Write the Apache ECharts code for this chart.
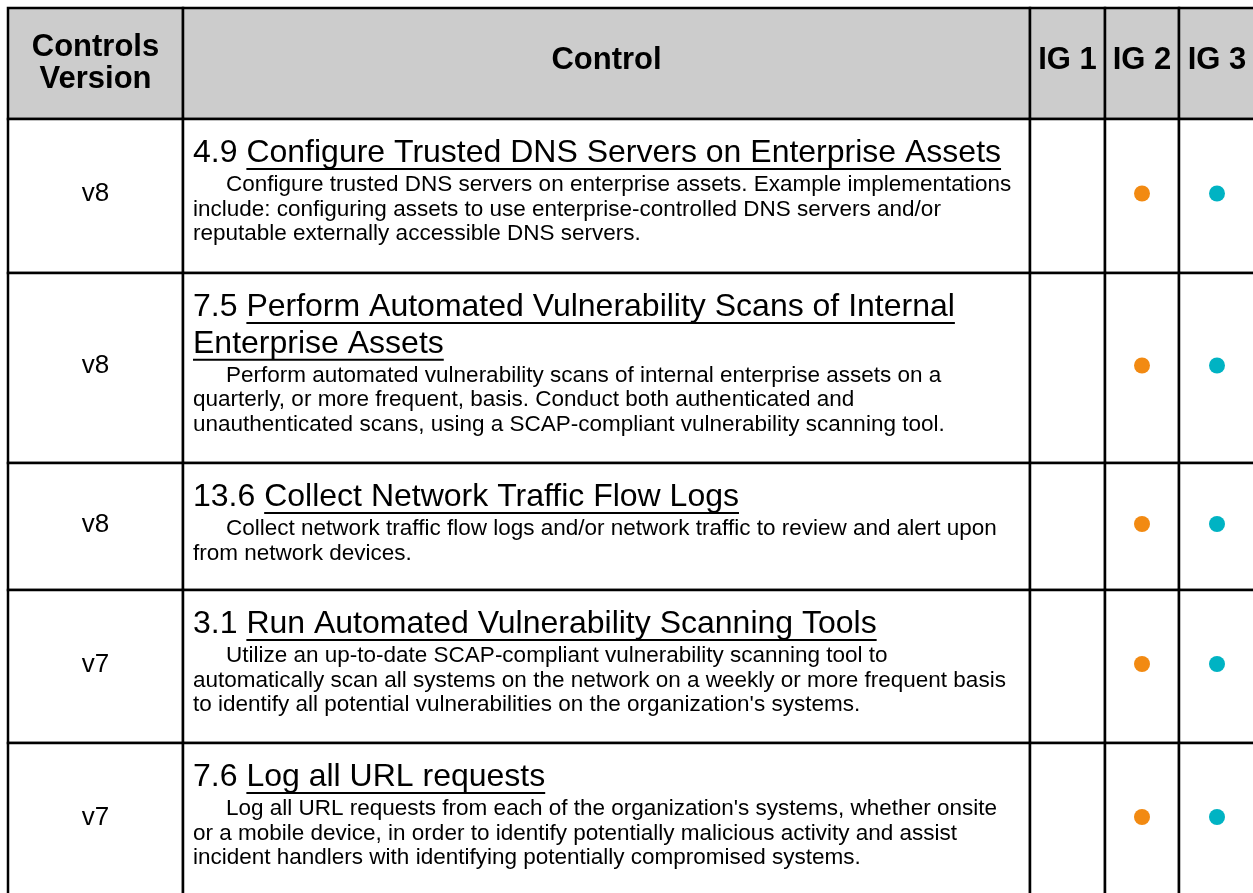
<!DOCTYPE html>
<html>
<head>
<meta charset="utf-8">
<script src="https://cdn.jsdelivr.net/npm/echarts@6/dist/echarts.min.js"></script>
<style>
html,body{margin:0;padding:0;background:#fff;}
#chart{width:1253px;height:893px;}
</style>
</head>
<body>
<div id="chart"></div>
<script>
// ---------- data ----------
const headers = ['Controls\nVersion', 'Control', 'IG 1', 'IG 2', 'IG 3'];
const versions = ['v8', 'v8', 'v8', 'v7', 'v7'];
const controlIds = ['4.9', '7.5', '13.6', '3.1', '7.6'];
const titles = [
  ['Configure Trusted DNS Servers on Enterprise Assets'],
  ['Perform Automated Vulnerability Scans of Internal', 'Enterprise Assets'],
  ['Collect Network Traffic Flow Logs'],
  ['Run Automated Vulnerability Scanning Tools'],
  ['Log all URL requests']
];
const descriptions = [
  ['Configure trusted DNS servers on enterprise assets. Example implementations',
   'include: configuring assets to use enterprise-controlled DNS servers and/or',
   'reputable externally accessible DNS servers.'],
  ['Perform automated vulnerability scans of internal enterprise assets on a',
   'quarterly, or more frequent, basis. Conduct both authenticated and',
   'unauthenticated scans, using a SCAP-compliant vulnerability scanning tool.'],
  ['Collect network traffic flow logs and/or network traffic to review and alert upon',
   'from network devices.'],
  ['Utilize an up-to-date SCAP-compliant vulnerability scanning tool to',
   'automatically scan all systems on the network on a weekly or more frequent basis',
   "to identify all potential vulnerabilities on the organization's systems."],
  ["Log all URL requests from each of the organization's systems, whether onsite",
   'or a mobile device, in order to identify potentially malicious activity and assist',
   'incident handlers with identifying potentially compromised systems.']
];
const ig1 = [0, 0, 0, 0, 0];
const ig2 = [1, 1, 1, 1, 1];
const ig3 = [1, 1, 1, 1, 1];

// ---------- layout ----------
const W = 1253, H = 893;
const colEdges = [8, 183, 1030, 1105, 1179, 1255];
const rowEdges = [8, 119, 273, 463, 590, 743, 896];
const FAMILY = 'Liberation Sans';
const HEADER_BG = '#cccccc';
const ORANGE = '#f28a12';
const TEAL = '#00b3c3';
const TITLE_SIZE = 32, DESC_SIZE = 22.5;
const TITLE_STEP = 36.7, DESC_STEP = 24.5;

const measureCtx = document.createElement('canvas').getContext('2d');
function textWidth(s, size) { measureCtx.font = size + 'px "' + FAMILY + '"'; return measureCtx.measureText(s).width; }

const cells = [];
for (let r = 0; r <= versions.length; r++) for (let c = 0; c < headers.length; c++) cells.push([c, r]);

function txt(x, y, text, size, weight, align) {
  return { type: 'text', x, y, style: {
    text, fontFamily: FAMILY, fontSize: size, fontWeight: weight || 'normal',
    fill: '#000', align: align || 'left', verticalAlign: 'middle' } };
}

function renderCell(params, api) {
  const c = api.value(0), r = api.value(1);
  const p0 = api.coord([colEdges[c], rowEdges[r]]);
  const p1 = api.coord([colEdges[c + 1], rowEdges[r + 1]]);
  const x0 = p0[0], y0 = p0[1], w = p1[0] - p0[0], h = p1[1] - p0[1];
  const children = [{
    type: 'rect', shape: { x: x0, y: y0, width: w, height: h },
    style: { fill: r === 0 ? HEADER_BG : '#ffffff', stroke: '#000', lineWidth: 2.5 }
  }];
  const cx = x0 + w / 2, cy = y0 + h / 2;
  if (r === 0) {
    const multi = headers[c].indexOf('\n') >= 0;
    const t = txt(cx, cy - (multi ? 0.5 : 3), headers[c], 31, 'bold', 'center');
    t.style.lineHeight = 32;
    children.push(t);
  } else {
    const i = r - 1;
    if (c === 0) {
      children.push(txt(cx, cy - 2, versions[i], 26, 'normal', 'center'));
    } else if (c === 1) {
      const tx = x0 + 10;
      let base = y0 + 45;
      const tl = titles[i];
      for (let k = 0; k < tl.length; k++) {
        const prefix = k === 0 ? controlIds[i] + ' ' : '';
        const pw = textWidth(prefix, TITLE_SIZE);
        const lw = textWidth(tl[k], TITLE_SIZE);
        children.push(txt(tx, base - 11, prefix + tl[k], TITLE_SIZE));
        children.push({ type: 'line', shape: { x1: tx + pw, y1: base + 5, x2: tx + pw + lw, y2: base + 5 },
          style: { stroke: '#000', lineWidth: 2 } });
        if (k < tl.length - 1) base += TITLE_STEP;
      }
      base += 28.5;
      const dl = descriptions[i];
      for (let k = 0; k < dl.length; k++) {
        children.push(txt(tx + (k === 0 ? 33 : 0), base - 7.7, dl[k], DESC_SIZE));
        base += DESC_STEP;
      }
    }
  }
  return { type: 'group', children };
}

function dotData(flags, col) {
  const out = [];
  flags.forEach((f, i) => {
    if (f) out.push([(colEdges[col] + colEdges[col + 1]) / 2, (rowEdges[i + 1] + rowEdges[i + 2]) / 2 - 2.5]);
  });
  return out;
}

const dotStyle = (color) => ({ color, opacity: 1 });
const chart = echarts.init(document.getElementById('chart'), null, { renderer: 'canvas' });
chart.setOption({
  animation: false,
  backgroundColor: '#fff',
  grid: { left: 0, top: 0, width: W, height: H, show: false },
  xAxis: { type: 'value', min: 0, max: W, show: false },
  yAxis: { type: 'value', min: 0, max: H, inverse: true, show: false },
  series: [
    { type: 'custom', data: cells, renderItem: renderCell, clip: false, silent: true, z: 1 },
    { type: 'scatter', name: 'IG 1', data: dotData(ig1, 2), symbol: 'circle', symbolSize: 16, itemStyle: dotStyle(ORANGE), silent: true, z: 3 },
    { type: 'scatter', name: 'IG 2', data: dotData(ig2, 3), symbol: 'circle', symbolSize: 16, itemStyle: dotStyle(ORANGE), silent: true, z: 3 },
    { type: 'scatter', name: 'IG 3', data: dotData(ig3, 4), symbol: 'circle', symbolSize: 16, itemStyle: dotStyle(TEAL), silent: true, z: 3 }
  ]
});
</script>
</body>
</html>
